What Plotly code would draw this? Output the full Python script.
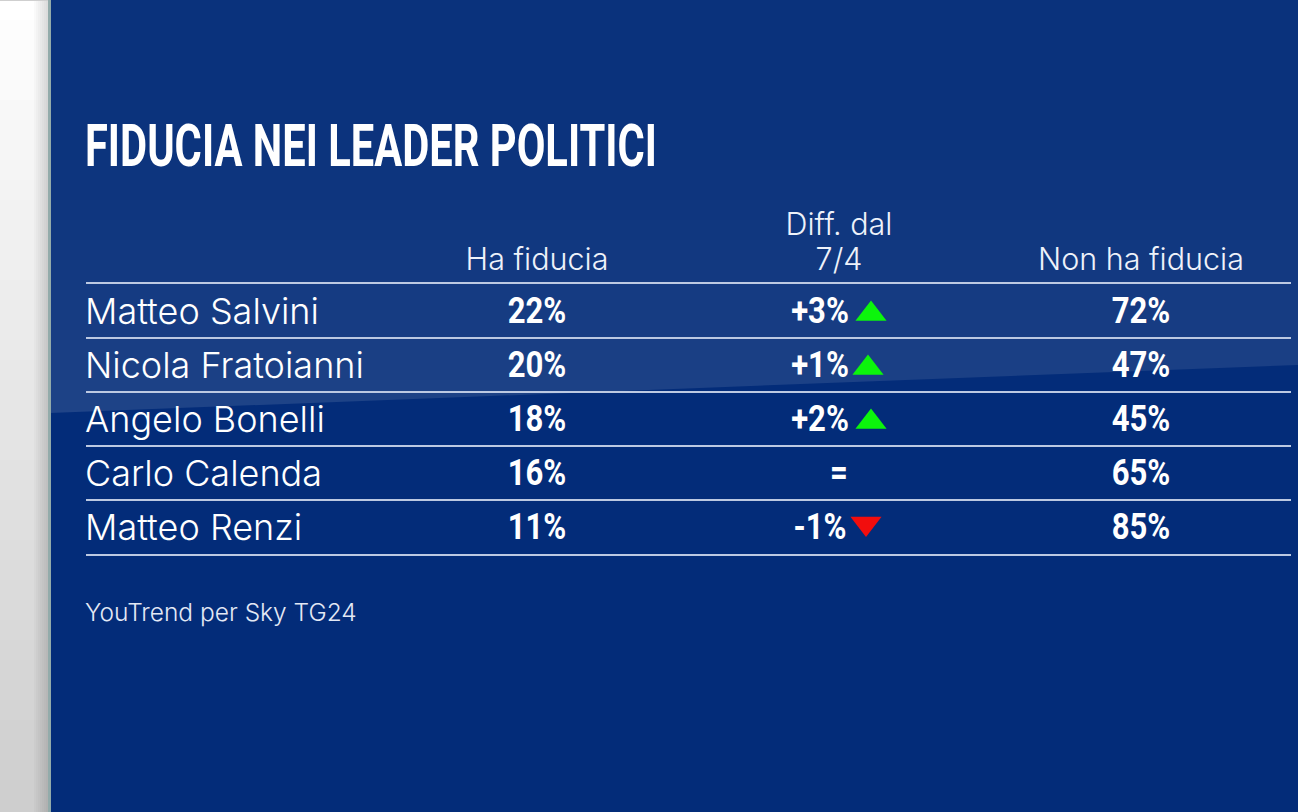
import plotly.graph_objects as go

W = 1298
H = 812

leaders = ["Matteo Salvini", "Nicola Fratoianni", "Angelo Bonelli", "Carlo Calenda", "Matteo Renzi"]
headers = ["Ha fiducia", "Diff. dal<br>7/4", "Non ha fiducia"]
trust = ["22%", "20%", "18%", "16%", "11%"]
diff = ["+3%", "+1%", "+2%", "=", "-1%"]
noTrust = ["72%", "47%", "45%", "65%", "85%"]
upLeaders = ["Matteo Salvini", "Nicola Fratoianni", "Angelo Bonelli"]
downLeaders = ["Matteo Renzi"]

LIGHT = "Inter"
HEAVY = "Roboto"
LINE = "#bcc9e2"

# no condensed face is installed, so the heavy text gets squeezed once it is drawn
# the first header line also sits a little lower than plotly's fixed line height puts it
SQUEEZE = """
var squeeze = function(el, f) {
    el.setAttribute('lengthAdjust', 'spacingAndGlyphs');
    el.setAttribute('textLength', el.getComputedTextLength() * f);
};
document.body.style.margin = '0';
document.body.style.overflow = 'hidden';
document.querySelectorAll('.textpoint text').forEach(function(el) { squeeze(el, 0.84); });
document.querySelectorAll('.annotation-text').forEach(function(el) {
    if (el.textContent.indexOf('FIDUCIA') === 0) {
        var full = el.getComputedTextLength();
        el.setAttribute('x', parseFloat(el.getAttribute('x')) - (full - 572) / 2 - 3);
        squeeze(el, 572 / full);
    }
});
document.querySelectorAll('.xtick text').forEach(function(el) {
    var lines = el.querySelectorAll('tspan.line');
    if (lines.length === 2) {
        lines[0].setAttribute('dy', '5');
    }
});
"""


def px(x):
    return x / W


def py(y):
    return 1 - y / H


def mix(a, b, t):
    return "rgb(%d,%d,%d)" % tuple(a[i] + (b[i] - a[i]) * t for i in range(3))


def rect(x0, y0, x1, y1, color):
    return dict(type="rect", xref="paper", yref="paper", layer="below",
                x0=px(x0), x1=px(x1), y0=py(y0), y1=py(y1),
                fillcolor=color, line_width=0)


shapes = []

# blue panel, lightening faster towards the band edge
for i in range(42):
    shapes.append(rect(50, i * 10, W, (i + 1) * 10 + 1, mix((10, 50, 124), (32, 68, 136), (i / 41) ** 2)))

# darker lower part with the slanted edge
shapes.append(dict(type="path", xref="paper", yref="paper", layer="below",
                   path="M %f %f L %f %f L %f %f L %f %f Z" % (px(50), py(413), px(W), py(365), px(W), py(H), px(50), py(H)),
                   fillcolor="#032c79", line_width=0))

# pale strip on the left
for i in range(41):
    shapes.append(rect(0, i * 20, 48, (i + 1) * 20 + 1, mix((255, 255, 255), (206, 206, 206), i / 40)))
for i in range(8):
    shapes.append(rect(34 + i * 2, 0, 48, H, "rgba(0,0,0,0.018)"))
shapes.append(rect(48, 0, 51, H, "#93abaa"))
shapes.append(rect(0, 0, 48, 1, "#cfcfcf"))

fig = go.Figure()

# keeps the main axis, with the names and the row lines, on the page
fig.add_trace(go.Scatter(x=[0] * len(leaders), y=leaders, mode="markers", marker_opacity=0,
                         showlegend=False, hoverinfo="skip"))

# labels with an arrow sit left of the column centre, the arrow follows them
diffShift = [0 if d == "=" else -19 / 302 for d in diff]
arrowGap = {"+3%": 32, "+1%": 29, "+2%": 32, "-1%": 27}

columnX = [
    [0] * len(leaders),
    [1 + s for s in diffShift],
    [2] * len(leaders),
]
for xs, values in zip(columnX, [trust, diff, noTrust]):
    fig.add_trace(go.Scatter(x=xs, y=leaders, yaxis="y2",
                             mode="text", text=values, textposition="middle center",
                             textfont=dict(family=HEAVY, size=37, color="white", weight="bold"),
                             cliponaxis=False, showlegend=False, hoverinfo="skip"))

fig.add_trace(go.Scatter(x=[1 + arrowGap[diff[leaders.index(n)]] / 302 for n in upLeaders], y=upLeaders,
                         yaxis="y2", mode="markers",
                         marker=dict(symbol="triangle-up", size=27, color="#0cf50c", line_width=0),
                         showlegend=False, hoverinfo="skip"))
fig.add_trace(go.Scatter(x=[1 + arrowGap[diff[leaders.index(n)]] / 302 for n in downLeaders], y=downLeaders,
                         yaxis="y3", mode="markers",
                         marker=dict(symbol="triangle-down", size=27, color="#f20d0d", line_width=0),
                         showlegend=False, hoverinfo="skip"))

hiddenRow = dict(type="category", categoryorder="array", categoryarray=leaders,
                 overlaying="y", visible=False)

fig.update_layout(
    width=W,
    height=H,
    margin=dict(l=0, r=0, t=0, b=0),
    paper_bgcolor="#032c79",
    plot_bgcolor="rgba(0,0,0,0)",
    shapes=shapes,
    font=dict(family=LIGHT, color="#eef2fa"),
    xaxis=dict(
        domain=[px(86), px(1291)],
        range=[-451 / 302, 754 / 302],
        side="top",
        tickmode="array",
        tickvals=[0, 1, 2],
        ticktext=headers,
        tickfont=dict(family=LIGHT, size=30.5, weight=300),
        ticklabelstandoff=0,
        ticks="",
        showgrid=False,
        zeroline=False,
        showline=True,
        mirror=True,
        linecolor=LINE,
        linewidth=1.5,
    ),
    yaxis=dict(
        domain=[py(554), py(284)],
        type="category",
        categoryorder="array",
        categoryarray=leaders,
        range=[4.5, -0.5],
        ticklabelposition="inside",
        ticklabelstandoff=-4,
        tickson="boundaries",
        tickfont=dict(family=LIGHT, size=36, weight=300),
        ticks="",
        showgrid=True,
        gridcolor=LINE,
        gridwidth=1.5,
        zeroline=False,
        showline=False,
    ),
    # same rows, nudged a few pixels so text and triangles sit where they should
    yaxis2=dict(hiddenRow, domain=[py(554), py(284)], range=[4.5 - 3 / 54, -0.5 - 3 / 54]),
    yaxis3=dict(hiddenRow, domain=[py(554), py(284)], range=[4.5 + 3.5 / 54, -0.5 + 3.5 / 54]),
    annotations=[
        dict(text="FIDUCIA NEI LEADER POLITICI", xref="paper", yref="paper",
             x=px(86), y=py(145), xanchor="left", yanchor="middle", showarrow=False,
             font=dict(family=HEAVY, size=59, color="white", weight="bold")),
        dict(text="YouTrend per Sky TG24", xref="paper", yref="paper",
             x=px(86), y=py(612), xanchor="left", yanchor="middle", showarrow=False, xshift=-3,
             font=dict(family=LIGHT, size=24.5, color="#e3e9f5", weight=300)),
    ],
)

fig.write_html("out.html", config=dict(displayModeBar=False), post_script=SQUEEZE)
